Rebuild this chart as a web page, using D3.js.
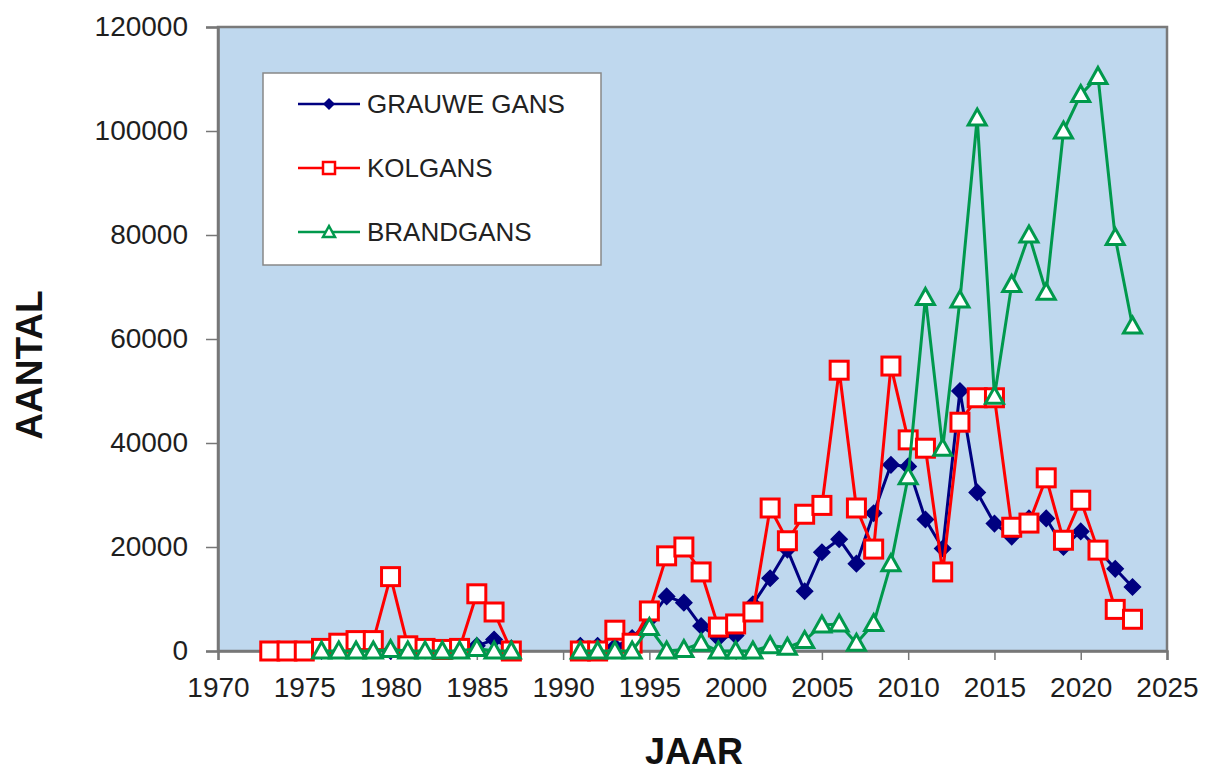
<!DOCTYPE html>
<html><head><meta charset="utf-8">
<script src="https://cdn.jsdelivr.net/npm/d3@7"></script>
<style>
body{margin:0;background:#fff;}
svg{display:block;}
</style></head>
<body>
<svg id="c" width="1209" height="772"></svg>
<script>
const years = [1973,1974,1975,1976,1977,1978,1979,1980,1981,1982,1983,1984,1985,1986,1987,1988,1989,1990,
 1991,1992,1993,1994,1995,1996,1997,1998,1999,2000,2001,2002,2003,2004,2005,2006,2007,2008,2009,2010,
 2011,2012,2013,2014,2015,2016,2017,2018,2019,2020,2021,2022,2023];
const grauweGans = [null,null,null,0,200,300,500,0,200,100,200,300,1000,2200,500,null,null,null,
 1000,1000,800,2500,6000,10500,9300,4800,2500,3000,9000,14000,19500,11500,19000,21500,16800,26500,35800,35500,
 25300,19700,50000,30500,24500,22000,25500,25500,20000,23000,19500,15800,12300];
const kolgans = [0,0,0,500,1500,2000,2000,14300,1000,500,300,500,11000,7500,0,null,null,null,
 0,0,4000,1500,7700,18300,20000,15200,4600,5200,7500,27500,21200,26300,28000,54000,27500,19600,54800,40600,
 39000,15200,44000,48700,48700,23800,24600,33300,21300,29000,19400,8000,6100];
const brandgans = [null,null,null,0,0,0,0,300,0,0,0,0,500,0,0,null,null,null,
 0,0,0,0,4500,0,300,1500,0,0,0,1000,700,2000,5000,5200,1500,5300,16800,33500,
 68000,39000,67500,102500,49000,70500,80000,69000,100000,107000,110500,79500,62500];
const seriesNames = ["GRAUWE GANS","KOLGANS","BRANDGANS"];
const xTicks = [1970,1975,1980,1985,1990,1995,2000,2005,2010,2015,2020,2025];
const yTicks = [0,20000,40000,60000,80000,100000,120000];

const svg = d3.select("#c");
const L=218,R=1167,T=27,B=651;
const x = d3.scaleLinear().domain([1970,2025]).range([L,R]);
const y = d3.scaleLinear().domain([0,120000]).range([B,T]);

svg.append("rect").attr("x",L).attr("y",T).attr("width",R-L).attr("height",B-T)
  .attr("fill","#BFD8EE").attr("stroke","#7a7a7a").attr("stroke-width",2.5);

const font = "'Liberation Sans', Arial, sans-serif";
const ya = svg.append("g").attr("transform",`translate(${L},0)`)
  .call(d3.axisLeft(y).tickValues(yTicks).tickSize(12).tickPadding(18).tickFormat(d=>String(d)));
const xa = svg.append("g").attr("transform",`translate(0,${B})`)
  .call(d3.axisBottom(x).tickValues(xTicks).tickSize(9).tickPadding(17).tickFormat(d=>String(d)));
[ya,xa].forEach(g=>{
  g.select(".domain").attr("stroke","#777").attr("stroke-width",2.5);
  g.selectAll(".tick line").attr("stroke","#777").attr("stroke-width",1.5);
  g.selectAll(".tick text").attr("fill","#1e1e1e").style("font-family",font).style("font-size","28px");
});

const data = [
  {name:seriesNames[0], vals:grauweGans, color:"#000080", marker:"diamond"},
  {name:seriesNames[1], vals:kolgans, color:"#FF0000", marker:"square"},
  {name:seriesNames[2], vals:brandgans, color:"#00994C", marker:"triangle"}
];

function drawMarker(g, type, color){
  if(type==="diamond"){
    g.append("path").attr("d","M0,-8L8,0L0,8L-8,0Z").attr("fill",color).attr("stroke",color).attr("stroke-width",1.5);
  } else if(type==="square"){
    g.append("rect").attr("x",-9).attr("y",-9).attr("width",18).attr("height",18)
      .attr("fill","#fff").attr("stroke",color).attr("stroke-width",3);
  } else {
    g.append("path").attr("d","M0,-9L9,7L-9,7Z").attr("fill","#fff").attr("stroke",color).attr("stroke-width",3);
  }
}

const line = d3.line().defined(d=>d.v!==null).x(d=>x(d.year)).y(d=>y(d.v));
data.forEach(s=>{
  const pts = years.map((yr,k)=>({year:yr,v:s.vals[k]}));
  svg.append("path").datum(pts).attr("d",line).attr("fill","none")
    .attr("stroke",s.color).attr("stroke-width",3).attr("stroke-linejoin","round");
  pts.filter(d=>d.v!==null).forEach(d=>{
    const g = svg.append("g").attr("transform",`translate(${x(d.year)},${y(d.v)})`);
    drawMarker(g,s.marker,s.color);
  });
});

// legend
const lg = svg.append("g");
lg.append("rect").attr("x",263).attr("y",73).attr("width",338).attr("height",192)
  .attr("fill","#fff").attr("stroke","#888").attr("stroke-width",1.5);
const ly = [104,168,232];
data.forEach((s,i)=>{
  lg.append("line").attr("x1",298).attr("x2",360).attr("y1",ly[i]).attr("y2",ly[i])
    .attr("stroke",s.color).attr("stroke-width",2.5);
  const g = lg.append("g").attr("transform",`translate(329,${ly[i]})`);
  if(s.marker==="diamond") g.append("path").attr("d","M0,-6L6,0L0,6L-6,0Z").attr("fill",s.color);
  else if(s.marker==="square") g.append("rect").attr("x",-6).attr("y",-6).attr("width",12).attr("height",12).attr("fill","#fff").attr("stroke",s.color).attr("stroke-width",2.5);
  else g.append("path").attr("d","M0,-6L6,5L-6,5Z").attr("fill","#fff").attr("stroke",s.color).attr("stroke-width",2.5);
  lg.append("text").attr("x",367).attr("y",ly[i]).attr("dy","0.36em")
    .style("font-family",font).style("font-size","26px").attr("fill","#222").text(s.name);
});

// axis titles
svg.append("text").attr("transform","translate(42,365) rotate(-90)").attr("text-anchor","middle")
  .style("font-family",font).style("font-weight","bold").style("font-size","37px").attr("fill","#111").text("AANTAL");
svg.append("text").attr("x",694).attr("y",764).attr("text-anchor","middle")
  .style("font-family",font).style("font-weight","bold").style("font-size","36px").attr("fill","#111").text("JAAR");
</script>
</body></html>
